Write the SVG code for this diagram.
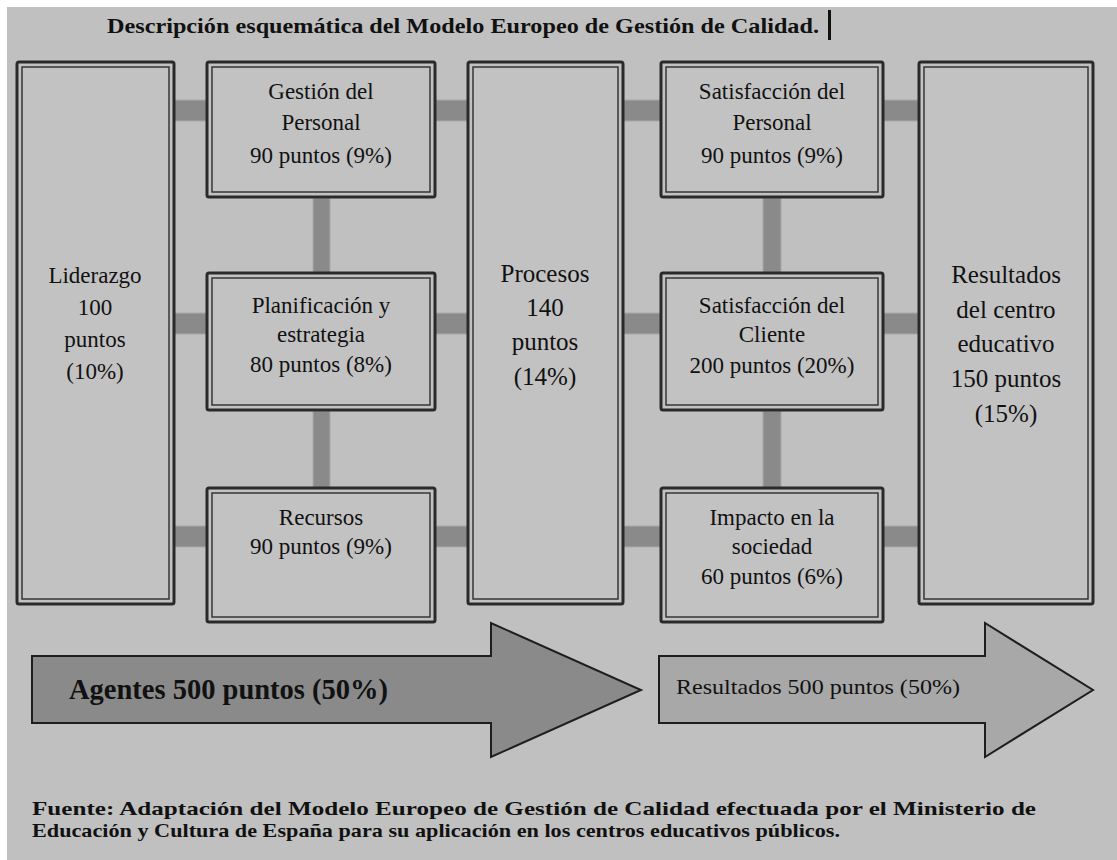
<svg xmlns="http://www.w3.org/2000/svg" width="1117" height="860" viewBox="0 0 1117 860">
<style>
.fo{fill:#c2c2c2;stroke:#2a2a2a;stroke-width:3}
.fi{fill:none;stroke:#363636;stroke-width:1.5}
.cn{fill:#8a8a8a;stroke:#a9a9a9;stroke-width:1}
.t{font-size:23px;fill:#111;text-anchor:middle}
.tb{font-size:25px}
.hd{font-weight:bold;fill:#111}
</style>
<rect x="0" y="0" width="1117" height="860" fill="#ffffff"/>
<rect x="7" y="7" width="1110" height="853" fill="#c0c0c0"/>
<g font-family="'Liberation Serif', 'Times New Roman', serif">
<text class="hd" x="107" y="33" font-size="22" textLength="712" lengthAdjust="spacingAndGlyphs">Descripción esquemática del Modelo Europeo de  Gestión de Calidad.</text>
<rect x="828" y="10" width="3" height="30" fill="#111"/>
<g id="connectors">
<rect class="cn" x="174" y="100" width="33" height="21"/>
<rect class="cn" x="174" y="313" width="33" height="21"/>
<rect class="cn" x="174" y="526" width="33" height="21"/>
<rect class="cn" x="435" y="100" width="33" height="21"/>
<rect class="cn" x="435" y="313" width="33" height="21"/>
<rect class="cn" x="435" y="526" width="33" height="21"/>
<rect class="cn" x="623" y="100" width="38" height="21"/>
<rect class="cn" x="623" y="313" width="38" height="21"/>
<rect class="cn" x="623" y="526" width="38" height="21"/>
<rect class="cn" x="883" y="100" width="36" height="21"/>
<rect class="cn" x="883" y="313" width="36" height="21"/>
<rect class="cn" x="883" y="526" width="36" height="21"/>
<rect class="cn" x="313" y="198" width="17" height="75"/>
<rect class="cn" x="313" y="411" width="17" height="77"/>
<rect class="cn" x="763" y="198" width="18" height="75"/>
<rect class="cn" x="763" y="411" width="18" height="77"/>
</g>
<g id="liderazgo">
<rect class="fo" x="17" y="62" width="157" height="542" rx="2"/>
<rect class="fi" x="22" y="67" width="147" height="532"/>
<text class="t" x="95" y="283">Liderazgo</text>
<text class="t" x="95" y="315">100</text>
<text class="t" x="95" y="347">puntos</text>
<text class="t" x="95" y="379">(10%)</text>
</g>
<g id="gestion-personal">
<rect class="fo" x="207" y="62" width="228" height="135" rx="2"/>
<rect class="fi" x="212" y="67" width="218" height="125"/>
<text class="t" x="321" y="99">Gestión del</text>
<text class="t" x="321" y="130">Personal</text>
<text class="t" x="321" y="163">90 puntos (9%)</text>
</g>
<g id="planificacion">
<rect class="fo" x="207" y="273" width="228" height="137" rx="2"/>
<rect class="fi" x="212" y="278" width="218" height="127"/>
<text class="t" x="321" y="313">Planificación y</text>
<text class="t" x="321" y="342">estrategia</text>
<text class="t" x="321" y="372">80 puntos (8%)</text>
</g>
<g id="recursos">
<rect class="fo" x="207" y="488" width="228" height="134" rx="2"/>
<rect class="fi" x="212" y="493" width="218" height="124"/>
<text class="t" x="321" y="525">Recursos</text>
<text class="t" x="321" y="554">90 puntos (9%)</text>
</g>
<g id="procesos">
<rect class="fo" x="468" y="62" width="155" height="542" rx="2"/>
<rect class="fi" x="473" y="67" width="145" height="532"/>
<text class="t tb" x="545" y="282">Procesos</text>
<text class="t tb" x="545" y="316">140</text>
<text class="t tb" x="545" y="350">puntos</text>
<text class="t tb" x="545" y="385">(14%)</text>
</g>
<g id="satisfaccion-personal">
<rect class="fo" x="661" y="62" width="222" height="135" rx="2"/>
<rect class="fi" x="666" y="67" width="212" height="125"/>
<text class="t" x="772" y="99">Satisfacción del</text>
<text class="t" x="772" y="130">Personal</text>
<text class="t" x="772" y="163">90 puntos (9%)</text>
</g>
<g id="satisfaccion-cliente">
<rect class="fo" x="661" y="273" width="222" height="137" rx="2"/>
<rect class="fi" x="666" y="278" width="212" height="127"/>
<text class="t" x="772" y="313">Satisfacción del</text>
<text class="t" x="772" y="342">Cliente</text>
<text class="t" x="772" y="373">200 puntos (20%)</text>
</g>
<g id="impacto">
<rect class="fo" x="661" y="488" width="222" height="134" rx="2"/>
<rect class="fi" x="666" y="493" width="212" height="124"/>
<text class="t" x="772" y="525">Impacto en la</text>
<text class="t" x="772" y="554">sociedad</text>
<text class="t" x="772" y="584">60 puntos (6%)</text>
</g>
<g id="resultados">
<rect class="fo" x="919" y="62" width="174" height="542" rx="2"/>
<rect class="fi" x="924" y="67" width="164" height="532"/>
<text class="t tb" x="1006" y="283">Resultados</text>
<text class="t tb" x="1006" y="318">del centro</text>
<text class="t tb" x="1006" y="352">educativo</text>
<text class="t tb" x="1006" y="387">150 puntos</text>
<text class="t tb" x="1006" y="422">(15%)</text>
</g>
<g id="arrow-agentes">
<polygon points="32,656 491,656 491,623 641,690 491,757 491,723 32,723" fill="#8a8a8a" stroke="#1e1e1e" stroke-width="2" stroke-linejoin="miter"/>
<text class="hd" x="69" y="699" font-size="30" textLength="319" lengthAdjust="spacingAndGlyphs">Agentes 500 puntos (50%)</text>
</g>
<g id="arrow-resultados">
<polygon points="659,656 985,656 985,623 1093,690 985,757 985,723 659,723" fill="#a8a8a8" stroke="#1e1e1e" stroke-width="2" stroke-linejoin="miter"/>
<text x="676" y="694" font-size="21" fill="#111" textLength="284" lengthAdjust="spacingAndGlyphs">Resultados 500 puntos (50%)</text>
</g>
<text class="hd" x="32" y="815" font-size="19" textLength="1004" lengthAdjust="spacingAndGlyphs">Fuente: Adaptación del Modelo Europeo de Gestión de Calidad efectuada por el Ministerio de</text>
<text class="hd" x="32" y="837" font-size="19" textLength="808" lengthAdjust="spacingAndGlyphs">Educación y Cultura de España para su aplicación en los centros educativos públicos.</text>
</g>
</svg>
